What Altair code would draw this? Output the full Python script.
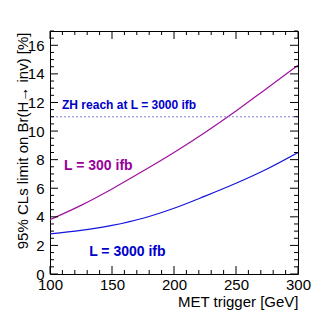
import altair as alt
import pandas as pd

# ---- data ----
met = [100, 125, 150, 175, 200, 225, 250, 275, 300]
lim_300 = [3.8, 4.8, 5.95, 7.2, 8.5, 9.9, 11.4, 13.0, 14.6]
lim_3000 = [2.8, 3.05, 3.4, 3.9, 4.6, 5.45, 6.35, 7.35, 8.5]
zh_reach = [11.0]

x_major = [100, 150, 200, 250, 300]
x_minor = [v for v in range(100, 301, 10) if v % 50 != 0]
y_major = [0, 2, 4, 6, 8, 10, 12, 14, 16]
y_minor = [v / 2 for v in range(0, 35) if v % 4 != 0]

ann_text = ["ZH reach at L = 3000 ifb", "L = 300 ifb", "L = 3000 ifb"]
ann_x = [109.7, 111.3, 131.6]
ann_y = [11.85, 7.55, 1.55]

W, H = 248, 243
FONT = "Liberation Sans"

xs = alt.Scale(domain=[100, 300], nice=False, zero=False, padding=0)
ys = alt.Scale(domain=[0, 17], nice=False, zero=False, padding=0)

ax_x = alt.Axis(
    values=x_major, ticks=False, domain=False, grid=False, labelOverlap=False,
    labelFont=FONT, labelFontSize=15, labelColor="black", labelPadding=3,
    labelFlush=False,
    title="MET trigger [GeV]", titleFont=FONT, titleFontSize=15,
    titleFontWeight="normal", titleColor="black", titleAnchor="end",
    titlePadding=2)
ax_y = alt.Axis(
    values=y_major, ticks=False, domain=False, grid=False, labelOverlap=False,
    labelFont=FONT, labelFontSize=15, labelColor="black", labelPadding=6,
    labelFlush=False,
    title="95% CLs limit on Br(H\u2192 inv) [%]", titleFont=FONT,
    titleFontSize=15, titleFontWeight="normal", titleColor="black",
    titleAngle=-90, titleAlign="right", titleBaseline="middle",
    titleX=-28, titleY=1)

curves = pd.DataFrame({
    "met": met * 2,
    "lim": lim_300 + lim_3000,
    "lumi": ["300"] * len(met) + ["3000"] * len(met),
})

lines = alt.Chart(curves).mark_line(
    strokeWidth=1.2, clip=True, interpolate="monotone"
).encode(
    x=alt.X("met:Q", scale=xs, axis=ax_x),
    y=alt.Y("lim:Q", scale=ys, axis=ax_y),
    color=alt.Color("lumi:N", scale=alt.Scale(domain=["300", "3000"],
                                              range=["#a010a0", "#1414dc"]),
                    legend=None),
)

hline = alt.Chart(pd.DataFrame({"lim": zh_reach})).mark_rule(
    color="#8080e0", strokeDash=[2, 2], strokeWidth=1.2
).encode(y=alt.Y("lim:Q", scale=ys, axis=ax_y))

ann = pd.DataFrame({"met": ann_x, "lim": ann_y, "t": ann_text})
ann_colors = ["#0000cc", "#990099", "#0000cc"]
ann_sizes = [12, 14, 14]
texts = []
for i in range(len(ann_text)):
    texts.append(
        alt.Chart(ann.iloc[[i]]).mark_text(
            align="left", baseline="middle", font=FONT, fontWeight="bold",
            fontSize=ann_sizes[i], color=ann_colors[i]
        ).encode(x=alt.X("met:Q", scale=xs, axis=ax_x),
                 y=alt.Y("lim:Q", scale=ys, axis=ax_y), text="t:N")
    )


def yticks(vals, length):
    d = pd.DataFrame({"lim": vals})
    left = alt.Chart(d).mark_rule(color="black", strokeWidth=1).encode(
        y=alt.Y("lim:Q", scale=ys, axis=ax_y), x=alt.value(0), x2=alt.value(length))
    right = alt.Chart(d).mark_rule(color="black", strokeWidth=1).encode(
        y=alt.Y("lim:Q", scale=ys, axis=ax_y), x=alt.value(W), x2=alt.value(W - length))
    return [left, right]


def xticks(vals, length):
    d = pd.DataFrame({"met": vals})
    bottom = alt.Chart(d).mark_rule(color="black", strokeWidth=1).encode(
        x=alt.X("met:Q", scale=xs, axis=ax_x), y=alt.value(H), y2=alt.value(H - length))
    top = alt.Chart(d).mark_rule(color="black", strokeWidth=1).encode(
        x=alt.X("met:Q", scale=xs, axis=ax_x), y=alt.value(0), y2=alt.value(length))
    return [bottom, top]


tick_layers = (yticks(y_major, 8) + yticks(y_minor, 4)
               + xticks(x_major, 8) + xticks(x_minor, 4))

chart = alt.layer(lines, hline, *texts, *tick_layers).properties(
    width=W, height=H,
    autosize=alt.AutoSizeParams(type="none"),
    padding={"left": 42, "top": 23, "right": 20, "bottom": 37},
    background="white",
).configure_view(stroke="black", strokeWidth=1)

chart.save("out.html", embed_options={"renderer": "svg", "actions": False})
